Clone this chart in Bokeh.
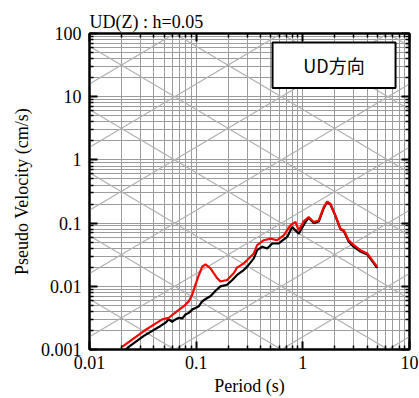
import math
from bokeh.plotting import figure
from bokeh.models import LogAxis, FixedTicker, BoxAnnotation, Label
from bokeh.embed import file_html
from bokeh.resources import INLINE

# ---- data ----
period_black = [0.02, 0.0233, 0.0323, 0.0463, 0.0515, 0.0553, 0.0595, 0.0640, 0.0687, 0.0739,
                0.0794, 0.0853, 0.0918, 0.0985, 0.106, 0.114, 0.127, 0.136, 0.152, 0.169,
                0.195, 0.218, 0.242, 0.279, 0.301, 0.347, 0.373, 0.416, 0.463, 0.516,
                0.594, 0.713, 0.794, 0.916, 1.057, 1.135, 1.265, 1.41, 1.57, 1.69,
                1.815, 2.02, 2.25, 2.42, 2.69, 3.00, 3.47, 4.01, 4.47, 4.97]
velocity_black = [0.00085, 0.00110, 0.00164, 0.00236, 0.00265, 0.00299, 0.00275, 0.00299, 0.00318, 0.00310,
                  0.00357, 0.00380, 0.00428, 0.00455, 0.00484, 0.00580, 0.00653, 0.00695, 0.00851, 0.00995,
                  0.0106, 0.0126, 0.0151, 0.0181, 0.0205, 0.0277, 0.0373, 0.0422, 0.0397, 0.0476,
                  0.0476, 0.0605, 0.0869, 0.0682, 0.104, 0.122, 0.100, 0.106, 0.172, 0.215,
                  0.197, 0.130, 0.080, 0.075, 0.0510, 0.0420, 0.0355, 0.0320, 0.0250, 0.0196]

period_red = [0.0202, 0.0323, 0.048, 0.0553, 0.0664, 0.0766, 0.0853, 0.0918, 0.0985, 0.106,
              0.114, 0.1222, 0.136, 0.146, 0.157, 0.169, 0.195, 0.225, 0.242, 0.279,
              0.301, 0.347, 0.373, 0.431, 0.497, 0.574, 0.662, 0.765, 0.853, 0.916,
              1.02, 1.135, 1.265, 1.41, 1.57, 1.69, 1.815, 2.02, 2.25, 2.42,
              2.69, 3.00, 3.47, 4.01, 4.47, 4.97]
velocity_red = [0.00110, 0.00196, 0.00299, 0.00318, 0.00404, 0.00484, 0.00580, 0.00736, 0.0106, 0.0151,
                0.0205, 0.0223, 0.0193, 0.0161, 0.0135, 0.0119, 0.0126, 0.0161, 0.0198, 0.0231,
                0.0260, 0.0331, 0.0447, 0.0536, 0.0569, 0.0536, 0.0641, 0.0920, 0.104, 0.0769,
                0.107, 0.125, 0.104, 0.110, 0.179, 0.219, 0.201, 0.132, 0.0817, 0.0769,
                0.0536, 0.0448, 0.0373, 0.0331, 0.0260, 0.0205]

x_ticks = [0.01, 0.1, 1, 10]
x_tick_labels = ["0.01", "0.1", "1", "10"]
y_ticks = [0.001, 0.01, 0.1, 1, 10, 100]
y_tick_labels = ["0.001", "0.01", "0.1", "1", "10", "100"]

# tripartite guide lines: displacement (cm) and acceleration (cm/s^2) decades
displacement_lines = [1e-6, 1e-5, 1e-4, 1e-3, 1e-2, 1e-1, 1, 10, 100]
acceleration_lines = [1e-4, 1e-3, 1e-2, 1e-1, 1, 10, 100, 1e3, 1e4, 1e5]

title_text = "UD(Z) : h=0.05"
legend_text = "UD方向"

SERIF = "Liberation Serif"

x_minor = [m * 10.0 ** e for e in range(-2, 1) for m in range(2, 10)]
y_minor = [m * 10.0 ** e for e in range(-3, 2) for m in range(2, 10)]

p = figure(width=419, height=398, x_axis_type="log", y_axis_type="log",
           x_range=(0.01, 10), y_range=(0.001, 100),
           output_backend="svg", toolbar_location=None,
           min_border_left=89, min_border_right=10, min_border_top=33, min_border_bottom=46)

p.title.text = title_text
p.title.text_font = SERIF
p.title.text_font_size = "18px"
p.title.text_font_style = "normal"
p.title.text_color = "black"
p.title.align = "left"
p.title.standoff = 3

xt = FixedTicker(ticks=x_ticks, minor_ticks=x_minor)
yt = FixedTicker(ticks=y_ticks, minor_ticks=y_minor)

grid_col = "#9c9c9c"
for g, t in ((p.xgrid, xt), (p.ygrid, yt)):
    g.ticker = t
    g.grid_line_color = grid_col
    g.grid_line_width = 1
    g.minor_grid_line_color = grid_col
    g.minor_grid_line_width = 1

def style_axis(ax, ticker, labels=None):
    ax.ticker = ticker
    ax.major_tick_in = 8
    ax.major_tick_out = 0
    ax.minor_tick_in = 4
    ax.minor_tick_out = 0
    ax.major_tick_line_width = 2
    ax.minor_tick_line_width = 1.5
    ax.axis_line_width = 2
    ax.major_tick_line_color = "black"
    ax.minor_tick_line_color = "black"
    ax.axis_line_color = "black"
    if labels is not None:
        ax.major_label_overrides = {t: l for t, l in zip(ticker.ticks, labels)}
        ax.major_label_text_font = SERIF
        ax.major_label_text_font_size = "18px"
        ax.major_label_text_color = "black"
        ax.axis_label_text_font = SERIF
        ax.axis_label_text_font_size = "18px"
        ax.axis_label_text_font_style = "normal"
        ax.axis_label_text_color = "black"
    else:
        ax.major_label_overrides = {t: "" for t in ticker.ticks}
        ax.major_label_standoff = 0

style_axis(p.xaxis[0], xt, x_tick_labels)
style_axis(p.yaxis[0], yt, y_tick_labels)
p.xaxis[0].axis_label = "Period (s)"
p.yaxis[0].axis_label = "Pseudo Velocity (cm/s)"
p.xaxis[0].major_label_standoff = 6
p.xaxis[0].axis_label_standoff = 4
p.yaxis[0].major_label_standoff = 8
p.yaxis[0].axis_label_standoff = 6

top_ax = LogAxis()
style_axis(top_ax, FixedTicker(ticks=x_ticks, minor_ticks=x_minor))
p.add_layout(top_ax, "above")
right_ax = LogAxis()
style_axis(right_ax, FixedTicker(ticks=y_ticks, minor_ticks=y_minor))
p.add_layout(right_ax, "right")

p.outline_line_color = "black"
p.outline_line_width = 2

# diagonal guide lines
T0, T1 = 0.01, 10.0
two_pi = 2 * math.pi
diag_col = "#b0b0b0"
for D in displacement_lines:
    p.line([T0, T1], [two_pi * D / T0, two_pi * D / T1], line_color=diag_col, line_width=1.2)
for A in acceleration_lines:
    p.line([T0, T1], [A * T0 / two_pi, A * T1 / two_pi], line_color=diag_col, line_width=1.2)

# spectra
p.line(period_black, velocity_black, line_color="black", line_width=2.2)
p.line(period_red, velocity_red, line_color="#ff0000", line_width=2.2)

# legend-like box
box = BoxAnnotation(left=0.52, right=7.4, bottom=13.7, top=72,
                    fill_color="white", fill_alpha=1.0,
                    line_color="black", line_width=2, line_alpha=1.0)
p.add_layout(box)
p.add_layout(Label(x=1.96, y=31.5, text=legend_text, text_align="center",
                   text_baseline="middle", text_font="Noto Sans CJK JP",
                   text_font_size="18px", text_color="black"))

open("out.html", "w").write(file_html(p, INLINE))
